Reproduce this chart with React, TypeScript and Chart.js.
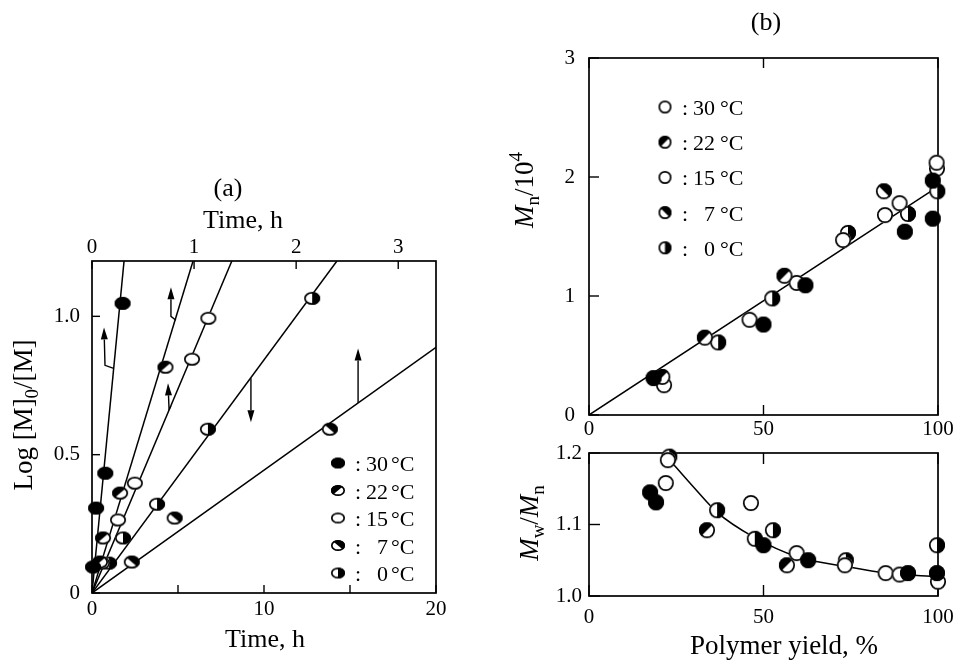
import React, { useEffect, useRef } from 'react';
import { Chart, registerables } from 'chart.js';

Chart.register(...registerables);

const SERIF = '"Liberation Serif", "Times New Roman", Times, serif';

// ---------------- Panel (a) ----------------
const aLowerTimeTicks = [0, 5, 10, 15, 20];
const aLowerTimeLabels = ['0', '', '10', '', '20'];
const aUpperTimeTicks = [0, 1, 2, 3];
const aUpperTimeLabels = ['0', '1', '2', '3'];
const aLogTicks = [0, 0.5, 1.0];
const aLogLabels = ['0', '0.5', '1.0'];

// points (30, 22, 15, 7 °C on the upper time axis; 0 °C on the lower one)
const a30Time = [0.01, 0.04, 0.13, 0.30];
const a30Log = [0.094, 0.307, 0.433, 1.047];
const a22Time = [0.078, 0.108, 0.275, 0.72];
const a22Log = [0.112, 0.199, 0.361, 0.816];
const a15Time = [0.098, 0.255, 0.42, 0.98, 1.14];
const a15Log = [0.108, 0.264, 0.397, 0.845, 0.993];
const a7Time = [0.39, 0.81, 2.33];
const a7Log = [0.112, 0.271, 0.592];
const a0Time = [0.99, 1.8, 3.78, 6.74, 12.8];
const a0Log = [0.108, 0.199, 0.321, 0.592, 1.065];

// fitted straight lines (start, end)
const a30FitTime = [0, 0.314];
const a30FitLog = [0, 1.2];
const a22FitTime = [0, 0.99];
const a22FitLog = [0, 1.2];
const a15FitTime = [0, 1.37];
const a15FitLog = [0, 1.2];
const a7FitTime = [0, 3.37];
const a7FitLog = [0, 0.888];
const a0FitTime = [0, 14.24];
const a0FitLog = [0, 1.2];

// arrows (lower time axis, log) — last point is the arrow tip
const aArrows: number[][][] = [
  [[1.26, 0.812], [0.756, 0.823], [0.698, 0.96]],
  [[4.88, 0.986], [4.59, 1.0], [4.59, 1.105]],
  [[4.59, 0.675], [4.48, 0.664], [4.42, 0.758]],
  [[9.24, 0.776], [9.24, 0.617]],
  [[15.47, 0.687], [15.47, 0.884]],
];

const legendTemps = ['30', '22', '15', '7', '0'];
const aLegendKinds: Kind[] = ['filled', 'diagUL', 'open', 'diagUR', 'halfR'];
const bLegendKinds: Kind[] = ['open', 'diagUL', 'open', 'diagUR', 'halfR'];

// ---------------- Panel (b) ----------------
const bYieldTicks = [0, 50, 100];
const bYieldLabels = ['0', '50', '100'];
const bMnTicks = [0, 1, 2, 3];
const bMnLabels = ['0', '1', '2', '3'];
const bPdiTicks = [1.0, 1.1, 1.2];
const bPdiLabels = ['1.0', '1.1', '1.2'];

const bMnFilledX = [18.5, 50.0, 62.0, 90.5, 98.5, 98.5];
const bMnFilledY = [0.31, 0.76, 1.09, 1.54, 1.97, 1.65];
const bMn22X = [21.0, 33.2, 56.0];
const bMn22Y = [0.32, 0.65, 1.17];
const bMn15X = [21.5, 46.0, 59.5, 72.8, 84.8, 89.0, 99.7, 99.6];
const bMn15Y = [0.25, 0.80, 1.11, 1.47, 1.68, 1.78, 2.07, 2.12];
const bMn7X = [84.5];
const bMn7Y = [1.88];
const bMn0X = [37.0, 52.5, 74.2, 91.4, 99.8];
const bMn0Y = [0.61, 0.98, 1.53, 1.69, 1.88];
const bMnFitX = [0, 100];
const bMnFitY = [0, 1.92];

const bPdiFilledX = [17.5, 19.2, 50.0, 62.8, 91.4, 99.7];
const bPdiFilledY = [1.145, 1.131, 1.071, 1.05, 1.032, 1.032];
const bPdi15X = [22.0, 22.6, 46.4, 59.5, 73.3, 85.0, 89.0, 100.0];
const bPdi15Y = [1.158, 1.19, 1.13, 1.06, 1.043, 1.032, 1.03, 1.02];
const bPdi0X = [23.0, 36.7, 47.5, 52.7, 73.6, 99.7];
const bPdi0Y = [1.195, 1.12, 1.08, 1.092, 1.05, 1.071];
const bPdi22X = [33.8, 56.7];
const bPdi22Y = [1.092, 1.043];
const bPdiCurveX = [22.6, 30, 36.7, 47, 59.6, 73.9, 85.3, 100];
const bPdiCurveY = [1.193, 1.152, 1.117, 1.083, 1.055, 1.041, 1.032, 1.027];

// ---------------- helpers ----------------
type Kind = 'filled' | 'open' | 'diagUL' | 'diagUR' | 'halfR';

function makeMarker(kind: Kind, w: number, h: number): HTMLCanvasElement {
  const pad = 2;
  const c = document.createElement('canvas');
  c.width = w + pad * 2;
  c.height = h + pad * 2;
  const ctx = c.getContext('2d')!;
  const cx = c.width / 2, cy = c.height / 2, rx = w / 2, ry = h / 2;
  ctx.beginPath();
  ctx.ellipse(cx, cy, rx, ry, 0, 0, Math.PI * 2);
  ctx.fillStyle = kind === 'filled' ? '#000' : '#fff';
  ctx.fill();
  if (kind === 'diagUL' || kind === 'diagUR' || kind === 'halfR') {
    ctx.save();
    ctx.clip();
    ctx.beginPath();
    if (kind === 'diagUL') {
      ctx.moveTo(cx - rx - 2, cy + ry + 2);
      ctx.lineTo(cx + rx + 2, cy - ry - 2);
      ctx.lineTo(cx - rx - 2, cy - ry - 2);
    } else if (kind === 'diagUR') {
      ctx.moveTo(cx - rx - 2, cy - ry - 2);
      ctx.lineTo(cx + rx + 2, cy + ry + 2);
      ctx.lineTo(cx + rx + 2, cy - ry - 2);
    } else {
      ctx.rect(cx, cy - ry - 2, rx + 2, 2 * ry + 4);
    }
    ctx.closePath();
    ctx.fillStyle = '#000';
    ctx.fill();
    ctx.restore();
  }
  ctx.beginPath();
  ctx.ellipse(cx, cy, rx - 0.8, ry - 0.8, 0, 0, Math.PI * 2);
  ctx.lineWidth = 1.7;
  ctx.strokeStyle = '#000';
  ctx.stroke();
  return c;
}

const pts = (xs: number[], ys: number[]) => xs.map((x, i) => ({ x, y: ys[i] }));

function markerSet(xs: number[], ys: number[], img: HTMLCanvasElement, xAxisID = 'x') {
  return {
    data: pts(xs, ys),
    xAxisID,
    yAxisID: 'y',
    pointStyle: img,
    pointRadius: 7,
    showLine: false,
    clip: false,
  };
}

function lineSet(xs: number[], ys: number[], xAxisID = 'x', smooth = false) {
  return {
    data: pts(xs, ys),
    xAxisID,
    yAxisID: 'y',
    showLine: true,
    pointRadius: 0,
    borderColor: '#000',
    borderWidth: 1.5,
    tension: smooth ? 0.4 : 0,
    cubicInterpolationMode: smooth ? 'monotone' : 'default',
  };
}

function axis(o: {
  min: number; max: number; ticks: number[]; labels: string[];
  position: string; size: number; padding: number;
}) {
  const vertical = o.position === 'left' || o.position === 'right';
  return {
    type: 'linear',
    position: o.position,
    min: o.min,
    max: o.max,
    afterBuildTicks: (s: any) => { s.ticks = o.ticks.map((v) => ({ value: v })); },
    afterFit: (s: any) => {
      if (vertical) s.width = o.size; else s.height = o.size;
      s.paddingLeft = 0; s.paddingRight = 0; s.paddingTop = 0; s.paddingBottom = 0;
    },
    ticks: {
      callback: (_v: any, i: number) => o.labels[i],
      font: { family: SERIF, size: 21 },
      color: '#000',
      padding: o.padding,
      maxRotation: 0,
      autoSkip: false,
    },
    grid: { display: false, drawTicks: false },
    border: { display: false },
    title: { display: false },
  };
}

type Seg = { t: string; italic?: boolean; sub?: boolean; sup?: boolean };

function drawRich(ctx: CanvasRenderingContext2D, segs: Seg[], x: number, y: number, size: number, rotate = false) {
  ctx.save();
  ctx.translate(x, y);
  if (rotate) ctx.rotate(-Math.PI / 2);
  const fontFor = (s: Seg) => `${s.italic ? 'italic ' : ''}${s.sub || s.sup ? Math.round(size * 0.7) : size}px ${SERIF}`;
  let total = 0;
  for (const s of segs) { ctx.font = fontFor(s); total += ctx.measureText(s.t).width; }
  let cx = -total / 2;
  ctx.textBaseline = 'alphabetic';
  ctx.textAlign = 'left';
  ctx.fillStyle = '#000';
  for (const s of segs) {
    ctx.font = fontFor(s);
    const dy = s.sub ? size * 0.22 : s.sup ? -size * 0.42 : 0;
    ctx.fillText(s.t, cx, dy);
    cx += ctx.measureText(s.t).width;
  }
  ctx.restore();
}

type TickSpec = { scale: string; side: 'top' | 'bottom' | 'left'; values: number[] };

function framePlugin(specs: TickSpec[], len: number) {
  return {
    id: 'frameTicks',
    beforeDatasetsDraw(chart: any) {
      const { ctx, chartArea: a } = chart;
      ctx.save();
      ctx.strokeStyle = '#000';
      ctx.lineWidth = 1.7;
      ctx.strokeRect(a.left, a.top, a.right - a.left, a.bottom - a.top);
      ctx.lineWidth = 1.4;
      for (const sp of specs) {
        const sc = chart.scales[sp.scale];
        for (const v of sp.values) {
          const p = sc.getPixelForValue(v);
          ctx.beginPath();
          if (sp.side === 'bottom') { ctx.moveTo(p, a.bottom); ctx.lineTo(p, a.bottom - len); }
          else if (sp.side === 'top') { ctx.moveTo(p, a.top); ctx.lineTo(p, a.top + len); }
          else { ctx.moveTo(a.left, p); ctx.lineTo(a.left + len, p); }
          ctx.stroke();
        }
      }
      ctx.restore();
    },
  };
}

function drawLegend(ctx: CanvasRenderingContext2D, kinds: Kind[], imgW: number, imgH: number,
  symX: number, y0: number, dy: number, colonX: number, numRight: number, unitX: number) {
  ctx.save();
  ctx.fillStyle = '#000';
  ctx.font = `22px ${SERIF}`;
  ctx.textBaseline = 'alphabetic';
  kinds.forEach((k, i) => {
    const y = y0 + i * dy;
    const img = makeMarker(k, imgW, imgH);
    ctx.drawImage(img, symX - img.width / 2, y - img.height / 2);
    ctx.textAlign = 'left';
    ctx.fillText(':', colonX, y + 8);
    ctx.textAlign = 'right';
    ctx.fillText(legendTemps[i], numRight, y + 8);
    ctx.textAlign = 'left';
    ctx.fillText('\u00B0C', unitX, y + 8);
  });
  ctx.restore();
}

export default function App() {
  const refA = useRef<HTMLCanvasElement>(null);
  const refB1 = useRef<HTMLCanvasElement>(null);
  const refB2 = useRef<HTMLCanvasElement>(null);

  useEffect(() => {
    const mA = (k: Kind) => makeMarker(k, 16, 13);
    const mB = (k: Kind) => makeMarker(k, 16, 16);

    // ----- chart (a) -----
    const chartA = new Chart(refA.current!, {
      type: 'scatter',
      data: {
        datasets: [
          markerSet(a30Time, a30Log, mA('filled'), 'x2'),
          markerSet(a22Time, a22Log, mA('diagUL'), 'x2'),
          markerSet(a15Time, a15Log, mA('open'), 'x2'),
          markerSet(a7Time, a7Log, mA('diagUR'), 'x2'),
          markerSet(a0Time, a0Log, mA('halfR'), 'x'),
          lineSet(a30FitTime, a30FitLog, 'x2'),
          lineSet(a22FitTime, a22FitLog, 'x2'),
          lineSet(a15FitTime, a15FitLog, 'x2'),
          lineSet(a7FitTime, a7FitLog, 'x2'),
          lineSet(a0FitTime, a0FitLog, 'x'),
        ] as any,
      },
      options: {
        animation: false,
        responsive: false,
        events: [],
        layout: { padding: { left: 0, right: 44, top: 0, bottom: 0 } },
        plugins: { legend: { display: false }, tooltip: { enabled: false } },
        scales: {
          x: axis({ min: 0, max: 20, ticks: aLowerTimeTicks, labels: aLowerTimeLabels, position: 'bottom', size: 67, padding: 4 }),
          x2: axis({ min: 0, max: 3.37, ticks: aUpperTimeTicks, labels: aUpperTimeLabels, position: 'top', size: 101, padding: 1 }),
          y: axis({ min: 0, max: 1.2, ticks: aLogTicks, labels: aLogLabels, position: 'left', size: 92, padding: 12 }),
        } as any,
      },
      plugins: [
        framePlugin([
          { scale: 'x', side: 'bottom', values: aLowerTimeTicks },
          { scale: 'x2', side: 'top', values: aUpperTimeTicks },
          { scale: 'y', side: 'left', values: aLogTicks },
        ], 8),
        {
          id: 'decorA',
          afterDatasetsDraw(chart: any) {
            const ctx = chart.ctx as CanvasRenderingContext2D;
            const xs = chart.scales.x, ys = chart.scales.y;
            ctx.save();
            ctx.strokeStyle = '#000';
            ctx.fillStyle = '#000';
            ctx.lineWidth = 1.4;
            for (const path of aArrows) {
              const p = path.map(([t, v]) => [xs.getPixelForValue(t), ys.getPixelForValue(v)]);
              const [x1, y1] = p[p.length - 2];
              const [x2, y2] = p[p.length - 1];
              const ang = Math.atan2(y2 - y1, x2 - x1);
              const L = 12, W = 3.5;
              const bx = x2 - L * Math.cos(ang), by = y2 - L * Math.sin(ang);
              ctx.beginPath();
              ctx.moveTo(p[0][0], p[0][1]);
              for (let i = 1; i < p.length - 1; i++) ctx.lineTo(p[i][0], p[i][1]);
              ctx.lineTo(bx, by);
              ctx.stroke();
              ctx.beginPath();
              ctx.moveTo(x2, y2);
              ctx.lineTo(bx + W * Math.sin(ang), by - W * Math.cos(ang));
              ctx.lineTo(bx - W * Math.sin(ang), by + W * Math.cos(ang));
              ctx.closePath();
              ctx.fill();
            }
            ctx.restore();
          },
          afterDraw(chart: any) {
            const ctx = chart.ctx as CanvasRenderingContext2D;
            drawRich(ctx, [{ t: '(a)' }], 228, 36, 26);
            drawRich(ctx, [{ t: 'Time, h' }], 243, 68, 26);
            drawRich(ctx, [{ t: 'Time, h' }], 265, 487, 26);
            drawRich(ctx, [{ t: 'Log [M]' }, { t: '0', sub: true }, { t: '/[M]' }], 32, 255, 27, true);
            drawLegend(ctx, aLegendKinds, 14, 11, 338, 303, 27.5, 355, 388, 391);
          },
        },
      ],
    } as any);

    // ----- chart (b) upper -----
    const chartB1 = new Chart(refB1.current!, {
      type: 'scatter',
      data: {
        datasets: [
          markerSet(bMnFilledX, bMnFilledY, mB('filled')),
          markerSet(bMn22X, bMn22Y, mB('diagUL')),
          markerSet(bMn15X, bMn15Y, mB('open')),
          markerSet(bMn7X, bMn7Y, mB('diagUR')),
          markerSet(bMn0X, bMn0Y, mB('halfR')),
          lineSet(bMnFitX, bMnFitY),
        ] as any,
      },
      options: {
        animation: false,
        responsive: false,
        events: [],
        layout: { padding: { left: 0, right: 19, top: 58, bottom: 0 } },
        plugins: { legend: { display: false }, tooltip: { enabled: false } },
        scales: {
          x: axis({ min: 0, max: 100, ticks: bYieldTicks, labels: bYieldLabels, position: 'bottom', size: 30, padding: 2 }),
          y: axis({ min: 0, max: 3, ticks: bMnTicks, labels: bMnLabels, position: 'left', size: 109, padding: 14 }),
        } as any,
      },
      plugins: [
        framePlugin([
          { scale: 'x', side: 'bottom', values: bYieldTicks },
          { scale: 'x', side: 'top', values: bYieldTicks },
          { scale: 'y', side: 'left', values: bMnTicks },
        ], 10),
        {
          id: 'decorB1',
          afterDraw(chart: any) {
            const ctx = chart.ctx as CanvasRenderingContext2D;
            drawRich(ctx, [{ t: '(b)' }], 286, 30, 26);
            drawRich(ctx, [{ t: 'M', italic: true }, { t: 'n', sub: true }, { t: '/10' }, { t: '4', sup: true }], 53, 190, 27, true);
            drawLegend(ctx, bLegendKinds, 13, 13, 185, 107, 35.2, 202, 235, 240);
          },
        },
      ],
    } as any);

    // ----- chart (b) lower -----
    const chartB2 = new Chart(refB2.current!, {
      type: 'scatter',
      data: {
        datasets: [
          markerSet(bPdiFilledX, bPdiFilledY, mB('filled')),
          markerSet(bPdi15X, bPdi15Y, mB('open')),
          markerSet(bPdi0X, bPdi0Y, mB('halfR')),
          markerSet(bPdi22X, bPdi22Y, mB('diagUL')),
          lineSet(bPdiCurveX, bPdiCurveY, 'x', true),
        ] as any,
      },
      options: {
        animation: false,
        responsive: false,
        events: [],
        layout: { padding: { left: 0, right: 19, top: 13, bottom: 0 } },
        plugins: { legend: { display: false }, tooltip: { enabled: false } },
        scales: {
          x: axis({ min: 0, max: 100, ticks: bYieldTicks, labels: bYieldLabels, position: 'bottom', size: 64, padding: 9 }),
          y: axis({ min: 1.0, max: 1.2, ticks: bPdiTicks, labels: bPdiLabels, position: 'left', size: 109, padding: 7 }),
        } as any,
      },
      plugins: [
        framePlugin([
          { scale: 'x', side: 'bottom', values: bYieldTicks },
          { scale: 'x', side: 'top', values: bYieldTicks },
          { scale: 'y', side: 'left', values: bPdiTicks },
        ], 11),
        {
          id: 'decorB2',
          afterDraw(chart: any) {
            const ctx = chart.ctx as CanvasRenderingContext2D;
            drawRich(ctx, [{ t: 'M', italic: true }, { t: 'w', sub: true }, { t: '/' }, { t: 'M', italic: true }, { t: 'n', sub: true }], 58, 83, 27, true);
            drawRich(ctx, [{ t: 'Polymer yield, %' }], 304, 214, 27);
          },
        },
      ],
    } as any);

    return () => {
      chartA.destroy();
      chartB1.destroy();
      chartB2.destroy();
    };
  }, []);

  return (
    <div style={{ position: 'absolute', left: 0, top: 0, width: 957, height: 660, background: '#fff', overflow: 'hidden' }}>
      <canvas ref={refA} width={480} height={500} style={{ position: 'absolute', left: 0, top: 160, width: 480, height: 500 }} />
      <canvas ref={refB1} width={477} height={445} style={{ position: 'absolute', left: 480, top: 0, width: 477, height: 445 }} />
      <canvas ref={refB2} width={477} height={220} style={{ position: 'absolute', left: 480, top: 440, width: 477, height: 220 }} />
    </div>
  );
}
